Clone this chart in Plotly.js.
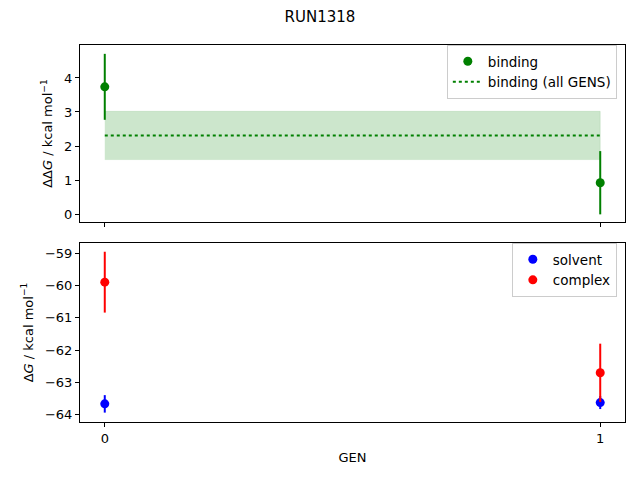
<!DOCTYPE html>
<html>
<head>
<meta charset="utf-8">
<script src="https://cdn.plot.ly/plotly-3.0.1.min.js"></script>
<style>body{margin:0;} #chart{width:640px;height:480px;}</style>
</head>
<body>
<div id="chart"></div>
<script>
// data
const gens = [0, 1];
const binding = [3.74, 0.92];
const bindingErr = [0.97, 0.93];
const bindingAll = 2.31;
const bindingAllErr = 0.71;
const solvent = [-63.66, -63.62];
const solventErr = [0.27, 0.2];
const complexG = [-59.9, -62.7];
const complexErr = [0.94, 0.9];

const font = {family: 'DejaVu Sans', size: 13, color: '#000'};
const axisBase = {
  showline: true, mirror: true, linecolor: '#000', linewidth: 1,
  ticks: 'outside', ticklen: 4, tickcolor: '#000',
  showgrid: false, zeroline: false
};

const traces = [
  // band for all gens
  {x: [gens[0], gens[1], gens[1], gens[0]],
   y: [bindingAll - bindingAllErr, bindingAll - bindingAllErr, bindingAll + bindingAllErr, bindingAll + bindingAllErr],
   fill: 'toself', fillcolor: 'rgba(0,128,0,0.2)', mode: 'lines',
   line: {width: 0.5, color: 'rgba(0,128,0,0.2)'},
   showlegend: false, hoverinfo: 'skip', xaxis: 'x', yaxis: 'y'},
  {x: gens, y: binding, name: 'binding', mode: 'markers',
   marker: {color: 'green', size: 9},
   error_y: {type: 'data', array: bindingErr, color: 'green', thickness: 2, width: 0},
   xaxis: 'x', yaxis: 'y', legend: 'legend'},
  {x: gens, y: [bindingAll, bindingAll], name: 'binding (all GENS)', mode: 'lines',
   line: {color: 'green', dash: 'dot', width: 2},
   xaxis: 'x', yaxis: 'y', legend: 'legend'},
  {x: gens, y: solvent, name: 'solvent', mode: 'markers',
   marker: {color: 'blue', size: 9},
   error_y: {type: 'data', array: solventErr, color: 'blue', thickness: 2, width: 0},
   xaxis: 'x2', yaxis: 'y2', legend: 'legend2'},
  {x: gens, y: complexG, name: 'complex', mode: 'markers',
   marker: {color: 'red', size: 9},
   error_y: {type: 'data', array: complexErr, color: 'red', thickness: 2, width: 0},
   xaxis: 'x2', yaxis: 'y2', legend: 'legend2'}
];

const legendFont = {family: 'DejaVu Sans', size: 13.5, color: '#000'};

const layout = {
  width: 640, height: 480,
  paper_bgcolor: '#fff', plot_bgcolor: '#fff',
  font: font,
  margin: {l: 80, r: 15, t: 45, b: 58},
  title: {text: 'RUN1318', x: 0.5, xanchor: 'center', y: 0.965, yanchor: 'middle', font: {family: 'DejaVu Sans', size: 15}},
  xaxis: Object.assign({}, axisBase, {domain: [0, 1], anchor: 'y', range: [-0.05, 1.05],
    tickvals: gens, showticklabels: false}),
  yaxis: Object.assign({}, axisBase, {domain: [0.5305, 1], anchor: 'x', range: [-0.235, 4.97],
    tickvals: [0, 1, 2, 3, 4],
    title: {text: 'ΔΔ<i>G</i> / kcal mol<sup>−1</sup>', font: font, standoff: 8}}),
  xaxis2: Object.assign({}, axisBase, {domain: [0, 1], anchor: 'y2', range: [-0.05, 1.05],
    tickvals: gens, ticktext: ['0', '1'],
    title: {text: 'GEN', font: font, standoff: 8}}),
  yaxis2: Object.assign({}, axisBase, {domain: [0, 0.4748], anchor: 'x2', range: [-64.22, -58.69],
    tickvals: [-64, -63, -62, -61, -60, -59], ticktext: ['−64', '−63', '−62', '−61', '−60', '−59'],
    title: {text: 'Δ<i>G</i> / kcal mol<sup>−1</sup>', font: font, standoff: 8}}),
  legend: {x: 0.985, y: 1.0, xanchor: 'right', yanchor: 'top',
    bordercolor: '#ccc', borderwidth: 1, bgcolor: 'rgba(255,255,255,0.8)', font: legendFont},
  legend2: {x: 0.985, y: 0.4748, xanchor: 'right', yanchor: 'top',
    bordercolor: '#ccc', borderwidth: 1, bgcolor: 'rgba(255,255,255,0.8)', font: legendFont},
  showlegend: true
};

Plotly.newPlot('chart', traces, layout, {displayModeBar: false, staticPlot: true});
</script>
</body>
</html>
